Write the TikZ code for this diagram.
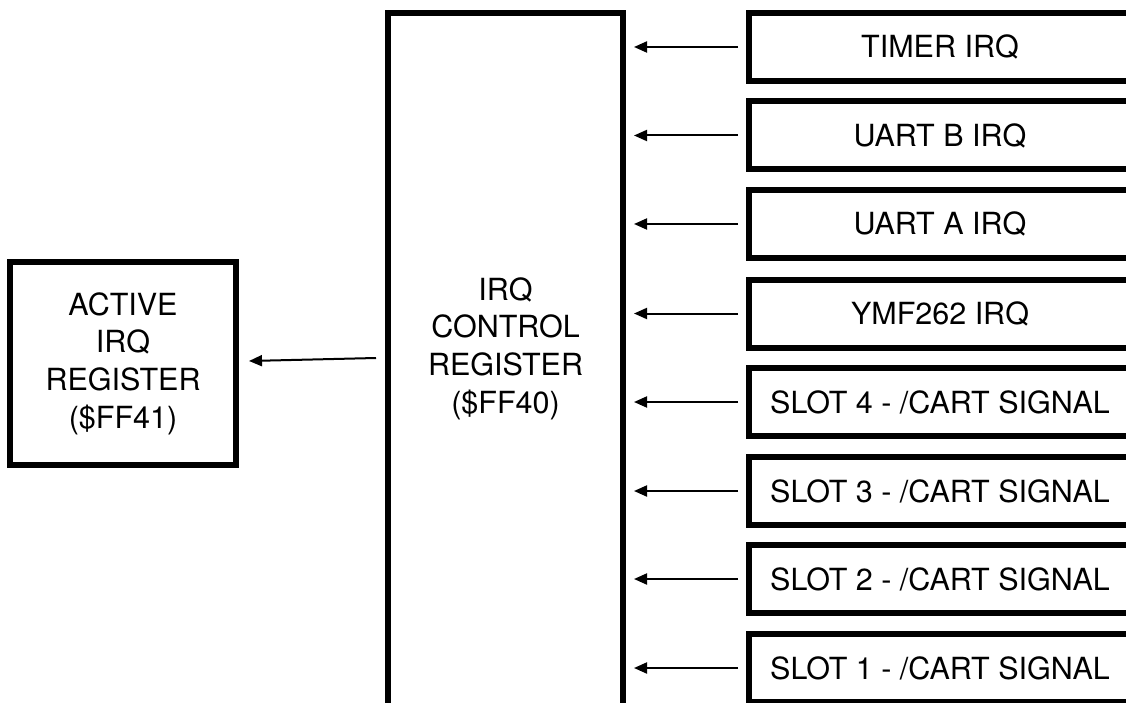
\documentclass[tikz,border=0pt]{standalone}
\usepackage{fontspec}
\setmainfont{TeX Gyre Heros}
\usetikzlibrary{arrows.meta}
\begin{document}
\begin{tikzpicture}[x=1pt,y=-1pt,
  box/.style={draw, line width=6pt, inner sep=0pt, outer sep=0pt},
  txt/.style={font=\fontsize{30.5}{37.7}\selectfont, align=center, inner sep=0pt},
  inbox/.style={box, minimum width=411pt, minimum height=68pt},
  arr/.style={line width=2pt, -{Triangle[length=13pt,width=11pt]}, shorten <=11pt, shorten >=11pt}]
\useasboundingbox (0,0) rectangle (1126,703);
\clip (0,0) rectangle (1126,703);
% left box
\node[box, minimum width=226pt, minimum height=203pt] (act) at (123,363.5) {};
\node[txt] (actlbl) at (act.center) {ACTIVE\\IRQ\\REGISTER\\(\$FF41)};
% control register
\node[box, minimum width=235pt, minimum height=707pt] (ctrl) at (505.5,366.5) {};
\node[txt] (ctrllbl) at (505.5,348.5) {IRQ\\CONTROL\\REGISTER\\(\$FF40)};
% input boxes with their labels
\foreach \n/\y/\t in {timer/47/{TIMER IRQ}, uartb/135.5/{UART B IRQ}, uarta/224/{UART A IRQ},
    ymf/313.5/{YMF262 IRQ}, slot4/402/{SLOT 4 - /CART SIGNAL}, slot3/491/{SLOT 3 - /CART SIGNAL},
    slot2/579/{SLOT 2 - /CART SIGNAL}, slot1/668/{SLOT 1 - /CART SIGNAL}}{
  \node[inbox] (\n) at (954.5,\y) {};
  \node[txt] (\n lbl) at (940,\y) {\t};
  \draw[arr] (\n.west) -- (\n.west -| ctrl.east);
}
\coordinate (acttail) at (376,358);
\coordinate (acthead) at (249,361);
\draw[line width=2pt, -{Triangle[length=13pt,width=11pt]}] (acttail) -- (acthead);
\end{tikzpicture}
\end{document}
